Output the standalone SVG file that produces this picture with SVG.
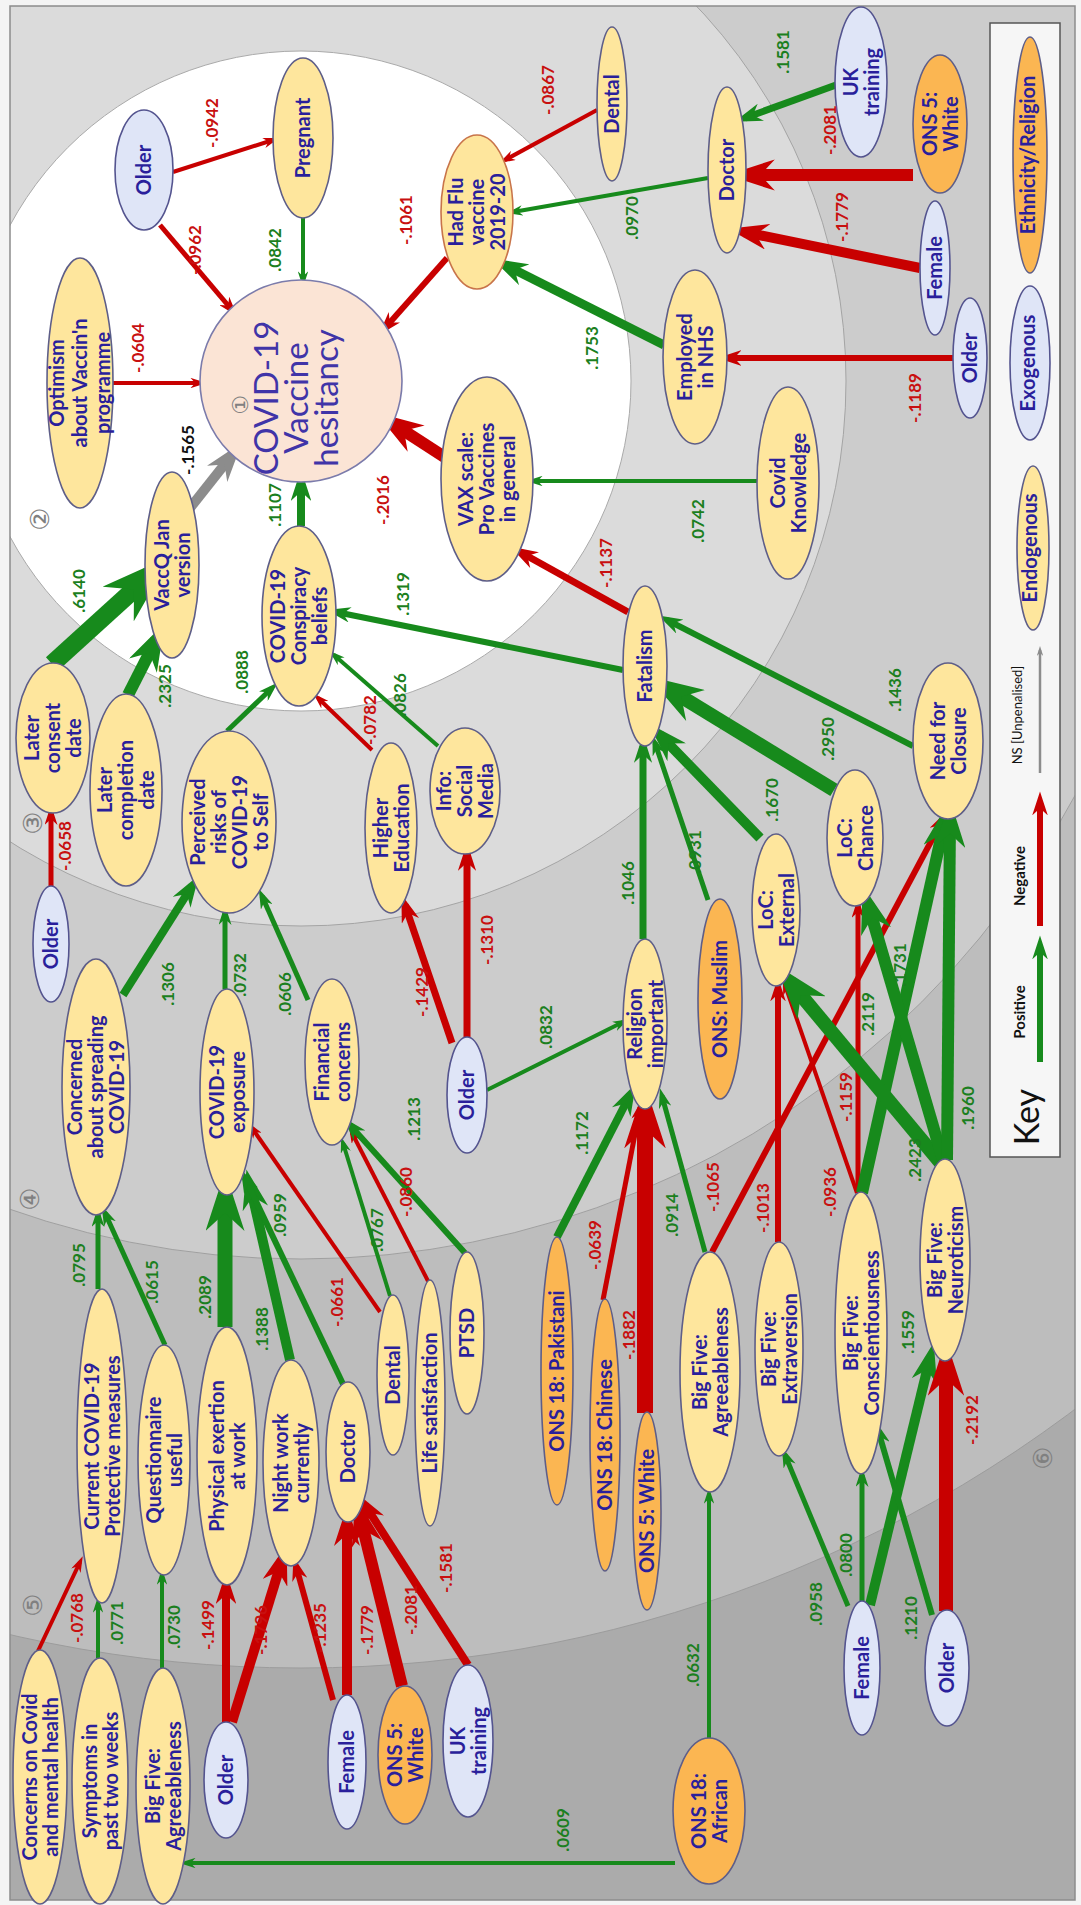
<svg xmlns="http://www.w3.org/2000/svg" width="1081" height="1905" viewBox="0 0 1081 1905">
<style>
.t{font-family:Lato,"Liberation Sans",sans-serif;font-weight:bold;font-size:20px;fill:#2a1f9b;text-anchor:middle}
.n{fill:#fee69d;stroke:#5e5e88;stroke-width:1.6}
.x{fill:#dfe5f7;stroke:#54548f;stroke-width:1.6}
.e{fill:#fbb652;stroke:#5e5e88;stroke-width:1.6}
.g{stroke:#178a1c;fill:none;marker-end:url(#mg)}
.r{stroke:#c80000;fill:none;marker-end:url(#mr)}
.k{stroke:#8c8c8c;fill:none;marker-end:url(#mk)}
.l{font-family:Lato,"Liberation Sans",sans-serif;font-size:17px;font-weight:bold;text-anchor:middle}
.lg{fill:#1b7f20}
.lr{fill:#c81010}
.ring{font-family:"DejaVu Sans",sans-serif;font-size:26px;fill:#808080;text-anchor:middle}
</style>
<defs>
<marker id="mg" viewBox="0 0 10 10" refX="6" refY="5" markerWidth="4" markerHeight="2.6" markerUnits="strokeWidth" orient="auto" preserveAspectRatio="none"><path d="M0,0 L10,5 L0,10 L3,5 z" fill="#178a1c"/></marker>
<marker id="mr" viewBox="0 0 10 10" refX="6" refY="5" markerWidth="4" markerHeight="2.6" markerUnits="strokeWidth" orient="auto" preserveAspectRatio="none"><path d="M0,0 L10,5 L0,10 L3,5 z" fill="#c80000"/></marker>
<marker id="mk" viewBox="0 0 10 10" refX="6" refY="5" markerWidth="4" markerHeight="2.6" markerUnits="strokeWidth" orient="auto" preserveAspectRatio="none"><path d="M0,0 L10,5 L0,10 L3,5 z" fill="#8c8c8c"/></marker>
<clipPath id="frame"><rect x="10" y="6" width="1065" height="1894"/></clipPath>
</defs>
<rect width="1081" height="1905" fill="#f4f4f4"/>
<g id="background" clip-path="url(#frame)">
<rect x="10" y="6" width="1065" height="1894" fill="#ababab"/>
<circle cx="301" cy="381" r="1287" fill="#bdbdbd" stroke="#9c9c9c" stroke-width="1"/>
<circle cx="301" cy="381" r="878" fill="#cccccc" stroke="#a0a0a0" stroke-width="1"/>
<circle cx="301" cy="381" r="545" fill="#dbdbdb" stroke="#a4a4a4" stroke-width="1"/>
<circle cx="301" cy="381" r="330" fill="#ffffff" stroke="#aaaaaa" stroke-width="1"/>
</g>
<rect x="10" y="6" width="1065" height="1894" fill="none" stroke="#8c8c8c" stroke-width="1.5"/>
<g id="ring-labels">
<text class="ring" transform="translate(40,519) rotate(-90)" dy="9">②</text>
<text class="ring" transform="translate(33,823) rotate(-90)" dy="9">③</text>
<text class="ring" transform="translate(30,1199) rotate(-90)" dy="9">④</text>
<text class="ring" transform="translate(33,1605) rotate(-90)" dy="9">⑤</text>
<text class="ring" transform="translate(1043,1458) rotate(-90)" dy="9">⑥</text>
</g>
<g id="connectors">
<line class="r" x1="113" y1="383" x2="200" y2="383" stroke-width="4"/>
<line class="r" x1="173" y1="172" x2="273" y2="140" stroke-width="4"/>
<line class="r" x1="160" y1="225" x2="232" y2="310" stroke-width="5"/>
<line class="g" x1="303" y1="218" x2="303" y2="281" stroke-width="4"/>
<line class="r" x1="447" y1="258" x2="385" y2="328" stroke-width="6"/>
<line class="r" x1="597" y1="110" x2="505" y2="160" stroke-width="4"/>
<line class="g" x1="708" y1="178" x2="513" y2="212" stroke-width="4"/>
<line class="g" x1="664" y1="345" x2="505" y2="265" stroke-width="9"/>
<line class="g" x1="836" y1="85" x2="745" y2="118" stroke-width="7"/>
<line class="r" x1="913" y1="175" x2="746" y2="175" stroke-width="12"/>
<line class="r" x1="920" y1="268" x2="744" y2="232" stroke-width="10"/>
<line class="r" x1="953" y1="358" x2="727" y2="358" stroke-width="6"/>
<line class="r" x1="446" y1="458" x2="392" y2="423" stroke-width="12"/>
<line class="g" x1="757" y1="481" x2="533" y2="481" stroke-width="4"/>
<line class="k" x1="186" y1="513" x2="232" y2="455" stroke-width="10"/>
<line class="g" x1="52" y1="664" x2="150" y2="575" stroke-width="18"/>
<line class="g" x1="128" y1="695" x2="156" y2="640" stroke-width="12"/>
<line class="g" x1="301" y1="526" x2="301" y2="482" stroke-width="8"/>
<line class="g" x1="227" y1="731" x2="272" y2="688" stroke-width="5"/>
<line class="r" x1="372" y1="750" x2="318" y2="698" stroke-width="4"/>
<line class="g" x1="438" y1="746" x2="334" y2="655" stroke-width="4"/>
<line class="g" x1="623" y1="670" x2="336" y2="612" stroke-width="6"/>
<line class="r" x1="628" y1="612" x2="520" y2="552" stroke-width="7"/>
<line class="g" x1="643" y1="939" x2="643" y2="746" stroke-width="7"/>
<line class="g" x1="708" y1="900" x2="655" y2="743" stroke-width="5"/>
<line class="g" x1="760" y1="838" x2="660" y2="735" stroke-width="10"/>
<line class="g" x1="834" y1="790" x2="667" y2="688" stroke-width="14"/>
<line class="g" x1="913" y1="746" x2="667" y2="620" stroke-width="6"/>
<line class="r" x1="51" y1="886" x2="51" y2="813" stroke-width="5"/>
<line class="g" x1="123" y1="995" x2="192" y2="886" stroke-width="8"/>
<line class="g" x1="225" y1="989" x2="225" y2="913" stroke-width="5"/>
<line class="g" x1="308" y1="1000" x2="262" y2="896" stroke-width="5"/>
<line class="r" x1="452" y1="1043" x2="405" y2="905" stroke-width="7"/>
<line class="r" x1="467" y1="1037" x2="467" y2="854" stroke-width="7"/>
<line class="g" x1="487" y1="1090" x2="623" y2="1022" stroke-width="4"/>
<line class="g" x1="98" y1="1289" x2="98" y2="1215" stroke-width="5"/>
<line class="g" x1="165" y1="1345" x2="105" y2="1213" stroke-width="5"/>
<line class="g" x1="225" y1="1327" x2="225" y2="1195" stroke-width="15"/>
<line class="g" x1="290" y1="1360" x2="250" y2="1185" stroke-width="10"/>
<line class="g" x1="343" y1="1384" x2="245" y2="1178" stroke-width="6"/>
<line class="r" x1="380" y1="1312" x2="252" y2="1128" stroke-width="4"/>
<line class="g" x1="390" y1="1296" x2="343" y2="1143" stroke-width="4"/>
<line class="r" x1="428" y1="1281" x2="352" y2="1133" stroke-width="4"/>
<line class="g" x1="465" y1="1253" x2="350" y2="1125" stroke-width="6"/>
<line class="g" x1="557" y1="1237" x2="630" y2="1095" stroke-width="8"/>
<line class="r" x1="603" y1="1300" x2="640" y2="1108" stroke-width="5"/>
<line class="r" x1="645" y1="1413" x2="645" y2="1110" stroke-width="16"/>
<line class="g" x1="705" y1="1252" x2="662" y2="1096" stroke-width="5"/>
<line class="r" x1="712" y1="1252" x2="943" y2="819" stroke-width="6"/>
<line class="r" x1="778" y1="1242" x2="778" y2="987" stroke-width="6"/>
<line class="r" x1="857" y1="1193" x2="785" y2="985" stroke-width="4"/>
<line class="r" x1="858" y1="1193" x2="858" y2="906" stroke-width="5"/>
<line class="g" x1="862" y1="1193" x2="945" y2="820" stroke-width="12"/>
<line class="g" x1="940" y1="1162" x2="790" y2="982" stroke-width="14"/>
<line class="g" x1="943" y1="1160" x2="868" y2="904" stroke-width="12"/>
<line class="g" x1="947" y1="1160" x2="950" y2="819" stroke-width="12"/>
<line class="g" x1="848" y1="1606" x2="785" y2="1455" stroke-width="5"/>
<line class="g" x1="862" y1="1601" x2="862" y2="1475" stroke-width="5"/>
<line class="g" x1="870" y1="1605" x2="930" y2="1358" stroke-width="10"/>
<line class="g" x1="932" y1="1615" x2="878" y2="1430" stroke-width="6"/>
<line class="r" x1="946" y1="1611" x2="946" y2="1362" stroke-width="14"/>
<line class="r" x1="38" y1="1651" x2="80" y2="1562" stroke-width="4"/>
<line class="g" x1="98" y1="1658" x2="98" y2="1603" stroke-width="4"/>
<line class="g" x1="162" y1="1668" x2="162" y2="1575" stroke-width="4"/>
<line class="r" x1="226" y1="1722" x2="226" y2="1585" stroke-width="8"/>
<line class="r" x1="232" y1="1722" x2="282" y2="1560" stroke-width="10"/>
<line class="r" x1="333" y1="1700" x2="296" y2="1566" stroke-width="6"/>
<line class="r" x1="347" y1="1695" x2="347" y2="1522" stroke-width="10"/>
<line class="r" x1="402" y1="1686" x2="360" y2="1516" stroke-width="12"/>
<line class="r" x1="468" y1="1665" x2="365" y2="1505" stroke-width="8"/>
<line class="g" x1="709" y1="1738" x2="709" y2="1494" stroke-width="4"/>
<path class="g" d="M675,1863 L186,1863" stroke-width="4"/>
</g>
<g id="nodes">
<g id="hesitancy" transform="translate(301,381)"><circle r="101" fill="#fbe4d5" stroke="#7b7bab" stroke-width="1.6"/>
<text transform="rotate(-90)" font-family="DejaVu Sans,sans-serif" font-size="22" fill="#808080" text-anchor="middle" x="-24" y="-53">①</text>
<text transform="rotate(-90)" font-family="Lato,'Liberation Sans',sans-serif" font-size="33" fill="#4034a8" text-anchor="middle"><tspan x="-17" y="-23">COVID-19</tspan><tspan x="-17" y="7">Vaccine</tspan><tspan x="-17" y="37">hesitancy</tspan></text></g>
<g id="older-1" transform="translate(144,170)"><ellipse class="x" rx="29" ry="60"/><text class="t" transform="rotate(-90)"><tspan x="0" y="7">Older</tspan></text></g>
<g id="pregnant" transform="translate(303,138)"><ellipse class="n" rx="30" ry="80"/><text class="t" transform="rotate(-90)" font-size="21"><tspan x="0" y="7">Pregnant</tspan></text></g>
<g id="optimism" transform="translate(80,383)"><ellipse class="n" rx="33" ry="125"/><text class="t" transform="rotate(-90)" font-size="22"><tspan x="0" y="-16">Optimism</tspan><tspan x="0" y="7">about Vaccin'n</tspan><tspan x="0" y="30">programme</tspan></text></g>
<g id="hadflu" transform="translate(477,212)"><ellipse class="n" rx="36" ry="77" style="stroke:#c8744a"/><text class="t" transform="rotate(-90)"><tspan x="0" y="-14">Had Flu</tspan><tspan x="0" y="7">vaccine</tspan><tspan x="0" y="28">2019-20</tspan></text></g>
<g id="dental-1" transform="translate(612,104)"><ellipse class="n" rx="15" ry="77"/><text class="t" transform="rotate(-90)"><tspan x="0" y="7">Dental</tspan></text></g>
<g id="employed" transform="translate(695,357)"><ellipse class="n" rx="32" ry="87"/><text class="t" transform="rotate(-90)" font-size="21"><tspan x="0" y="-3.5">Employed</tspan><tspan x="0" y="17.5">in NHS</tspan></text></g>
<g id="doctor-1" transform="translate(727,170)"><ellipse class="n" rx="19" ry="83"/><text class="t" transform="rotate(-90)" font-size="22"><tspan x="0" y="7">Doctor</tspan></text></g>
<g id="uktraining-1" transform="translate(861,82)"><ellipse class="x" rx="26" ry="75"/><text class="t" transform="rotate(-90)" font-size="21"><tspan x="0" y="-3.5">UK</tspan><tspan x="0" y="17.5">training</tspan></text></g>
<g id="white-1" transform="translate(940,124)"><ellipse class="e" rx="27" ry="69"/><text class="t" transform="rotate(-90)"><tspan x="0" y="-3.5">ONS 5:</tspan><tspan x="0" y="17.5">White</tspan></text></g>
<g id="female-1" transform="translate(935,268)"><ellipse class="x" rx="15" ry="67"/><text class="t" transform="rotate(-90)"><tspan x="0" y="7">Female</tspan></text></g>
<g id="older-2" transform="translate(970,358)"><ellipse class="x" rx="17" ry="60"/><text class="t" transform="rotate(-90)"><tspan x="0" y="7">Older</tspan></text></g>
<g id="vaxscale" transform="translate(487,479)"><ellipse class="n" rx="46" ry="102"/><text class="t" transform="rotate(-90)"><tspan x="0" y="-14">VAX scale:</tspan><tspan x="0" y="7">Pro Vaccines</tspan><tspan x="0" y="28">in general</tspan></text></g>
<g id="covidknowledge" transform="translate(788,483)"><ellipse class="n" rx="31" ry="96"/><text class="t" transform="rotate(-90)"><tspan x="0" y="-3.5">Covid</tspan><tspan x="0" y="17.5">Knowledge</tspan></text></g>
<g id="vaccq" transform="translate(172,565)"><ellipse class="n" rx="27" ry="93"/><text class="t" transform="rotate(-90)"><tspan x="0" y="-3.5">VaccQ Jan</tspan><tspan x="0" y="17.5">version</tspan></text></g>
<g id="consent" transform="translate(53,738)"><ellipse class="n" rx="37" ry="75"/><text class="t" transform="rotate(-90)"><tspan x="0" y="-14">Later</tspan><tspan x="0" y="7">consent</tspan><tspan x="0" y="28">date</tspan></text></g>
<g id="completion" transform="translate(126,790)"><ellipse class="n" rx="36" ry="96"/><text class="t" transform="rotate(-90)"><tspan x="0" y="-14">Later</tspan><tspan x="0" y="7">completion</tspan><tspan x="0" y="28">date</tspan></text></g>
<g id="perceived" transform="translate(229,822)"><ellipse class="n" rx="47" ry="91"/><text class="t" transform="rotate(-90)"><tspan x="0" y="-24.5">Perceived</tspan><tspan x="0" y="-3.5">risks of</tspan><tspan x="0" y="17.5">COVID-19</tspan><tspan x="0" y="38.5">to Self</tspan></text></g>
<g id="conspiracy" transform="translate(299,616)"><ellipse class="n" rx="37" ry="90"/><text class="t" transform="rotate(-90)"><tspan x="0" y="-14">COVID-19</tspan><tspan x="0" y="7">Conspiracy</tspan><tspan x="0" y="28">beliefs</tspan></text></g>
<g id="highered" transform="translate(391,828)"><ellipse class="n" rx="26" ry="85"/><text class="t" transform="rotate(-90)"><tspan x="0" y="-3.5">Higher</tspan><tspan x="0" y="17.5">Education</tspan></text></g>
<g id="socialmedia" transform="translate(465,791)"><ellipse class="n" rx="35" ry="63"/><text class="t" transform="rotate(-90)"><tspan x="0" y="-14">Info:</tspan><tspan x="0" y="7">Social</tspan><tspan x="0" y="28">Media</tspan></text></g>
<g id="fatalism" transform="translate(645,666)"><ellipse class="n" rx="22" ry="80"/><text class="t" transform="rotate(-90)"><tspan x="0" y="7">Fatalism</tspan></text></g>
<g id="locexternal" transform="translate(776,910)"><ellipse class="n" rx="24" ry="76"/><text class="t" transform="rotate(-90)"><tspan x="0" y="-3.5">LoC:</tspan><tspan x="0" y="17.5">External</tspan></text></g>
<g id="locchance" transform="translate(855,838)"><ellipse class="n" rx="28" ry="68"/><text class="t" transform="rotate(-90)"><tspan x="0" y="-3.5">LoC:</tspan><tspan x="0" y="17.5">Chance</tspan></text></g>
<g id="closure" transform="translate(948,741)"><ellipse class="n" rx="35" ry="78"/><text class="t" transform="rotate(-90)"><tspan x="0" y="-3.5">Need for</tspan><tspan x="0" y="17.5">Closure</tspan></text></g>
<g id="older-3" transform="translate(51,944)"><ellipse class="x" rx="18" ry="58"/><text class="t" transform="rotate(-90)"><tspan x="0" y="7">Older</tspan></text></g>
<g id="concerned" transform="translate(96,1087)"><ellipse class="n" rx="34" ry="128"/><text class="t" transform="rotate(-90)"><tspan x="0" y="-14">Concerned</tspan><tspan x="0" y="7">about spreading</tspan><tspan x="0" y="28">COVID-19</tspan></text></g>
<g id="exposure" transform="translate(227,1092)"><ellipse class="n" rx="27" ry="103"/><text class="t" transform="rotate(-90)"><tspan x="0" y="-3.5">COVID-19</tspan><tspan x="0" y="17.5">exposure</tspan></text></g>
<g id="financial" transform="translate(332,1062)"><ellipse class="n" rx="27" ry="83"/><text class="t" transform="rotate(-90)"><tspan x="0" y="-3.5">Financial</tspan><tspan x="0" y="17.5">concerns</tspan></text></g>
<g id="older-4" transform="translate(467,1095)"><ellipse class="x" rx="20" ry="58"/><text class="t" transform="rotate(-90)"><tspan x="0" y="7">Older</tspan></text></g>
<g id="religion" transform="translate(645,1024)"><ellipse class="n" rx="22" ry="85"/><text class="t" transform="rotate(-90)"><tspan x="0" y="-3.5">Religion</tspan><tspan x="0" y="17.5">important</tspan></text></g>
<g id="muslim" transform="translate(720,999)"><ellipse class="e" rx="22" ry="100"/><text class="t" transform="rotate(-90)"><tspan x="0" y="7">ONS: Muslim</tspan></text></g>
<g id="current" transform="translate(102,1446)"><ellipse class="n" rx="25" ry="157"/><text class="t" transform="rotate(-90)"><tspan x="0" y="-3.5">Current COVID-19</tspan><tspan x="0" y="17.5">Protective measures</tspan></text></g>
<g id="questionnaire" transform="translate(164,1460)"><ellipse class="n" rx="26" ry="115"/><text class="t" transform="rotate(-90)"><tspan x="0" y="-3.5">Questionnaire</tspan><tspan x="0" y="17.5">useful</tspan></text></g>
<g id="physical" transform="translate(227,1456)"><ellipse class="n" rx="30" ry="129"/><text class="t" transform="rotate(-90)"><tspan x="0" y="-3.5">Physical exertion</tspan><tspan x="0" y="17.5">at work</tspan></text></g>
<g id="night" transform="translate(291,1463)"><ellipse class="n" rx="28" ry="103"/><text class="t" transform="rotate(-90)"><tspan x="0" y="-3.5">Night work</tspan><tspan x="0" y="17.5">currently</tspan></text></g>
<g id="doctor-2" transform="translate(348,1452)"><ellipse class="n" rx="22" ry="70"/><text class="t" transform="rotate(-90)" font-size="22"><tspan x="0" y="7">Doctor</tspan></text></g>
<g id="dental-2" transform="translate(393,1375)"><ellipse class="n" rx="16" ry="80"/><text class="t" transform="rotate(-90)"><tspan x="0" y="7">Dental</tspan></text></g>
<g id="lifesat" transform="translate(430,1403)"><ellipse class="n" rx="15" ry="123"/><text class="t" transform="rotate(-90)"><tspan x="0" y="7">Life satisfaction</tspan></text></g>
<g id="ptsd" transform="translate(467,1333)"><ellipse class="n" rx="17" ry="81"/><text class="t" transform="rotate(-90)"><tspan x="0" y="7">PTSD</tspan></text></g>
<g id="pakistani" transform="translate(557,1371)"><ellipse class="e" rx="16" ry="134"/><text class="t" transform="rotate(-90)"><tspan x="0" y="7">ONS 18: Pakistani</tspan></text></g>
<g id="chinese" transform="translate(605,1435)"><ellipse class="e" rx="15" ry="136"/><text class="t" transform="rotate(-90)"><tspan x="0" y="7">ONS 18: Chinese</tspan></text></g>
<g id="white-2" transform="translate(647,1511)"><ellipse class="e" rx="14" ry="99"/><text class="t" transform="rotate(-90)"><tspan x="0" y="7">ONS 5: White</tspan></text></g>
<g id="agree-2" transform="translate(710,1372)"><ellipse class="n" rx="30" ry="120"/><text class="t" transform="rotate(-90)"><tspan x="0" y="-3.5">Big Five:</tspan><tspan x="0" y="17.5">Agreeableness</tspan></text></g>
<g id="extraversion" transform="translate(779,1349)"><ellipse class="n" rx="24" ry="107"/><text class="t" transform="rotate(-90)"><tspan x="0" y="-3.5">Big Five:</tspan><tspan x="0" y="17.5">Extraversion</tspan></text></g>
<g id="conscientiousness" transform="translate(861,1333)"><ellipse class="n" rx="26" ry="141"/><text class="t" transform="rotate(-90)"><tspan x="0" y="-3.5">Big Five:</tspan><tspan x="0" y="17.5">Conscientiousness</tspan></text></g>
<g id="neuroticism" transform="translate(945,1260)"><ellipse class="n" rx="25" ry="101"/><text class="t" transform="rotate(-90)"><tspan x="0" y="-3.5">Big Five:</tspan><tspan x="0" y="17.5">Neuroticism</tspan></text></g>
<g id="concerns-mh" transform="translate(40,1777)"><ellipse class="n" rx="27" ry="127"/><text class="t" transform="rotate(-90)"><tspan x="0" y="-3.5">Concerns on Covid</tspan><tspan x="0" y="17.5">and mental health</tspan></text></g>
<g id="symptoms" transform="translate(100,1781)"><ellipse class="n" rx="28" ry="123"/><text class="t" transform="rotate(-90)"><tspan x="0" y="-3.5">Symptoms in</tspan><tspan x="0" y="17.5">past two weeks</tspan></text></g>
<g id="agree-1" transform="translate(163,1786)"><ellipse class="n" rx="27" ry="118"/><text class="t" transform="rotate(-90)"><tspan x="0" y="-3.5">Big Five:</tspan><tspan x="0" y="17.5">Agreeableness</tspan></text></g>
<g id="older-5" transform="translate(226,1780)"><ellipse class="x" rx="22" ry="58"/><text class="t" transform="rotate(-90)"><tspan x="0" y="7">Older</tspan></text></g>
<g id="female-2" transform="translate(347,1762)"><ellipse class="x" rx="19" ry="67"/><text class="t" transform="rotate(-90)"><tspan x="0" y="7">Female</tspan></text></g>
<g id="white-3" transform="translate(405,1755)"><ellipse class="e" rx="27" ry="69"/><text class="t" transform="rotate(-90)"><tspan x="0" y="-3.5">ONS 5:</tspan><tspan x="0" y="17.5">White</tspan></text></g>
<g id="uktraining-2" transform="translate(468,1741)"><ellipse class="x" rx="25" ry="76"/><text class="t" transform="rotate(-90)" font-size="21"><tspan x="0" y="-3.5">UK</tspan><tspan x="0" y="17.5">training</tspan></text></g>
<g id="african" transform="translate(709,1811)"><ellipse class="e" rx="36" ry="73"/><text class="t" transform="rotate(-90)"><tspan x="0" y="-3.5">ONS 18:</tspan><tspan x="0" y="17.5">African</tspan></text></g>
<g id="female-3" transform="translate(862,1668)"><ellipse class="x" rx="18" ry="67"/><text class="t" transform="rotate(-90)"><tspan x="0" y="7">Female</tspan></text></g>
<g id="older-6" transform="translate(947,1668)"><ellipse class="x" rx="22" ry="58"/><text class="t" transform="rotate(-90)"><tspan x="0" y="7">Older</tspan></text></g>
</g>
<g id="edge-labels">
<text class="l lr" transform="translate(138,348) rotate(-90)" dy="6">-.0604</text>
<text class="l lr" transform="translate(212,123) rotate(-90)" dy="6">-.0942</text>
<text class="l lr" transform="translate(195,250) rotate(-90)" dy="6">-.0962</text>
<text class="l lg" transform="translate(275,250) rotate(-90)" dy="6">.0842</text>
<text class="l" fill="#111" transform="translate(188,450) rotate(-90)" dy="6">-.1565</text>
<text class="l lr" transform="translate(406,220) rotate(-90)" dy="6">-.1061</text>
<text class="l lr" transform="translate(548,90) rotate(-90)" dy="6">-.0867</text>
<text class="l lg" transform="translate(632,218) rotate(-90)" dy="6">.0970</text>
<text class="l lg" transform="translate(592,348) rotate(-90)" dy="6">.1753</text>
<text class="l lg" transform="translate(783,52) rotate(-90)" dy="6">.1581</text>
<text class="l lr" transform="translate(830,130) rotate(-90)" dy="6">-.2081</text>
<text class="l lr" transform="translate(842,217) rotate(-90)" dy="6">-.1779</text>
<text class="l lr" transform="translate(915,398) rotate(-90)" dy="6">-.1189</text>
<text class="l lr" transform="translate(383,500) rotate(-90)" dy="6">-.2016</text>
<text class="l lg" transform="translate(698,521) rotate(-90)" dy="6">.0742</text>
<text class="l lr" transform="translate(606,563) rotate(-90)" dy="6">-.1137</text>
<text class="l lg" transform="translate(403,594) rotate(-90)" dy="6">.1319</text>
<text class="l lr" transform="translate(370,720) rotate(-90)" dy="6">-.0782</text>
<text class="l lg" transform="translate(400,695) rotate(-90)" dy="6">.0826</text>
<text class="l lg" transform="translate(628,883) rotate(-90)" dy="6">.1046</text>
<text class="l lg" transform="translate(695,852) rotate(-90)" dy="6">.0931</text>
<text class="l lg" transform="translate(772,800) rotate(-90)" dy="6">.1670</text>
<text class="l lg" transform="translate(828,739) rotate(-90)" dy="6">.2950</text>
<text class="l lg" transform="translate(895,690) rotate(-90)" dy="6">.1436</text>
<text class="l lg" transform="translate(79,591) rotate(-90)" dy="6">.6140</text>
<text class="l lg" transform="translate(165,686) rotate(-90)" dy="6">.2325</text>
<text class="l lg" transform="translate(275,505) rotate(-90)" dy="6">.1107</text>
<text class="l lg" transform="translate(242,672) rotate(-90)" dy="6">.0888</text>
<text class="l lr" transform="translate(65,846) rotate(-90)" dy="6">-.0658</text>
<text class="l lg" transform="translate(168,984) rotate(-90)" dy="6">.1306</text>
<text class="l lg" transform="translate(240,975) rotate(-90)" dy="6">.0732</text>
<text class="l lg" transform="translate(285,994) rotate(-90)" dy="6">.0606</text>
<text class="l lr" transform="translate(422,992) rotate(-90)" dy="6">-.1429</text>
<text class="l lr" transform="translate(487,940) rotate(-90)" dy="6">-.1310</text>
<text class="l lg" transform="translate(546,1027) rotate(-90)" dy="6">.0832</text>
<text class="l lg" transform="translate(79,1265) rotate(-90)" dy="6">.0795</text>
<text class="l lg" transform="translate(152,1282) rotate(-90)" dy="6">.0615</text>
<text class="l lg" transform="translate(205,1297) rotate(-90)" dy="6">.2089</text>
<text class="l lg" transform="translate(262,1329) rotate(-90)" dy="6">.1388</text>
<text class="l lg" transform="translate(280,1215) rotate(-90)" dy="6">.0959</text>
<text class="l lr" transform="translate(337,1302) rotate(-90)" dy="6">-.0661</text>
<text class="l lg" transform="translate(377,1230) rotate(-90)" dy="6">.0767</text>
<text class="l lr" transform="translate(406,1192) rotate(-90)" dy="6">-.0860</text>
<text class="l lg" transform="translate(414,1119) rotate(-90)" dy="6">.1213</text>
<text class="l lg" transform="translate(582,1133) rotate(-90)" dy="6">.1172</text>
<text class="l lr" transform="translate(595,1245) rotate(-90)" dy="6">-.0639</text>
<text class="l lr" transform="translate(629,1335) rotate(-90)" dy="6">-.1882</text>
<text class="l lg" transform="translate(672,1215) rotate(-90)" dy="6">.0914</text>
<text class="l lr" transform="translate(713,1187) rotate(-90)" dy="6">-.1065</text>
<text class="l lr" transform="translate(763,1208) rotate(-90)" dy="6">-.1013</text>
<text class="l lr" transform="translate(830,1192) rotate(-90)" dy="6">-.0936</text>
<text class="l lr" transform="translate(846,1097) rotate(-90)" dy="6">-.1159</text>
<text class="l lg" transform="translate(868,1014) rotate(-90)" dy="6">.2119</text>
<text class="l lg" transform="translate(900,965) rotate(-90)" dy="6">.1731</text>
<text class="l lg" transform="translate(915,1160) rotate(-90)" dy="6">.2423</text>
<text class="l lg" transform="translate(968,1108) rotate(-90)" dy="6">.1960</text>
<text class="l lg" transform="translate(908,1332) rotate(-90)" dy="6">.1559</text>
<text class="l lr" transform="translate(972,1420) rotate(-90)" dy="6">-.2192</text>
<text class="l lg" transform="translate(816,1604) rotate(-90)" dy="6">.0958</text>
<text class="l lg" transform="translate(846,1555) rotate(-90)" dy="6">.0800</text>
<text class="l lg" transform="translate(911,1618) rotate(-90)" dy="6">.1210</text>
<text class="l lr" transform="translate(77,1618) rotate(-90)" dy="6">-.0768</text>
<text class="l lg" transform="translate(117,1623) rotate(-90)" dy="6">.0771</text>
<text class="l lg" transform="translate(174,1627) rotate(-90)" dy="6">.0730</text>
<text class="l lr" transform="translate(208,1625) rotate(-90)" dy="6">-.1499</text>
<text class="l lr" transform="translate(261,1630) rotate(-90)" dy="6">-.1796</text>
<text class="l lr" transform="translate(320,1628) rotate(-90)" dy="6">-.1235</text>
<text class="l lr" transform="translate(367,1630) rotate(-90)" dy="6">-.1779</text>
<text class="l lr" transform="translate(411,1610) rotate(-90)" dy="6">-.2081</text>
<text class="l lr" transform="translate(446,1568) rotate(-90)" dy="6">-.1581</text>
<text class="l lg" transform="translate(693,1665) rotate(-90)" dy="6">.0632</text>
<text class="l lg" transform="translate(563,1830) rotate(-90)" dy="6">.0609</text>
</g>
<g id="key">
<rect x="990" y="23" width="70" height="1134" fill="#f6f6f6" stroke="#555555" stroke-width="1.5"/>
<text transform="translate(1027,1117) rotate(-90)" font-family="Lato,'Liberation Sans',sans-serif" font-size="34" fill="#111" text-anchor="middle" dy="12">Key</text>
<text transform="translate(1020,1012) rotate(-90)" font-family="Lato,'Liberation Sans',sans-serif" font-size="15" font-weight="bold" fill="#111" text-anchor="middle" dy="5">Positive</text>
<line class="g" x1="1040" y1="1062" x2="1040" y2="945" stroke-width="6"/>
<text transform="translate(1020,876) rotate(-90)" font-family="Lato,'Liberation Sans',sans-serif" font-size="15" font-weight="bold" fill="#111" text-anchor="middle" dy="5">Negative</text>
<line class="r" x1="1040" y1="926" x2="1040" y2="801" stroke-width="6"/>
<text transform="translate(1017,715) rotate(-90)" font-family="Lato,'Liberation Sans',sans-serif" font-size="13" fill="#111" text-anchor="middle" dy="5">NS [Unpenalised]</text>
<line class="k" x1="1040" y1="773" x2="1040" y2="650" stroke-width="2.5"/>
<g id="key-endogenous" transform="translate(1033,548)"><ellipse class="n" rx="16" ry="82"/><text class="t" transform="rotate(-90)" font-size="12"><tspan x="0" y="4">Endogenous</tspan></text></g>
<g id="key-exogenous" transform="translate(1030,363)"><ellipse class="x" rx="20" ry="77"/><text class="t" transform="rotate(-90)" font-size="13"><tspan x="0" y="4.5">Exogenous</tspan></text></g>
<g id="key-ethnicity" transform="translate(1030,155)"><ellipse class="e" rx="17" ry="118"/><text class="t" transform="rotate(-90)" font-size="13"><tspan x="0" y="4.5">Ethnicity/Religion</tspan></text></g>
</g>
</svg>
